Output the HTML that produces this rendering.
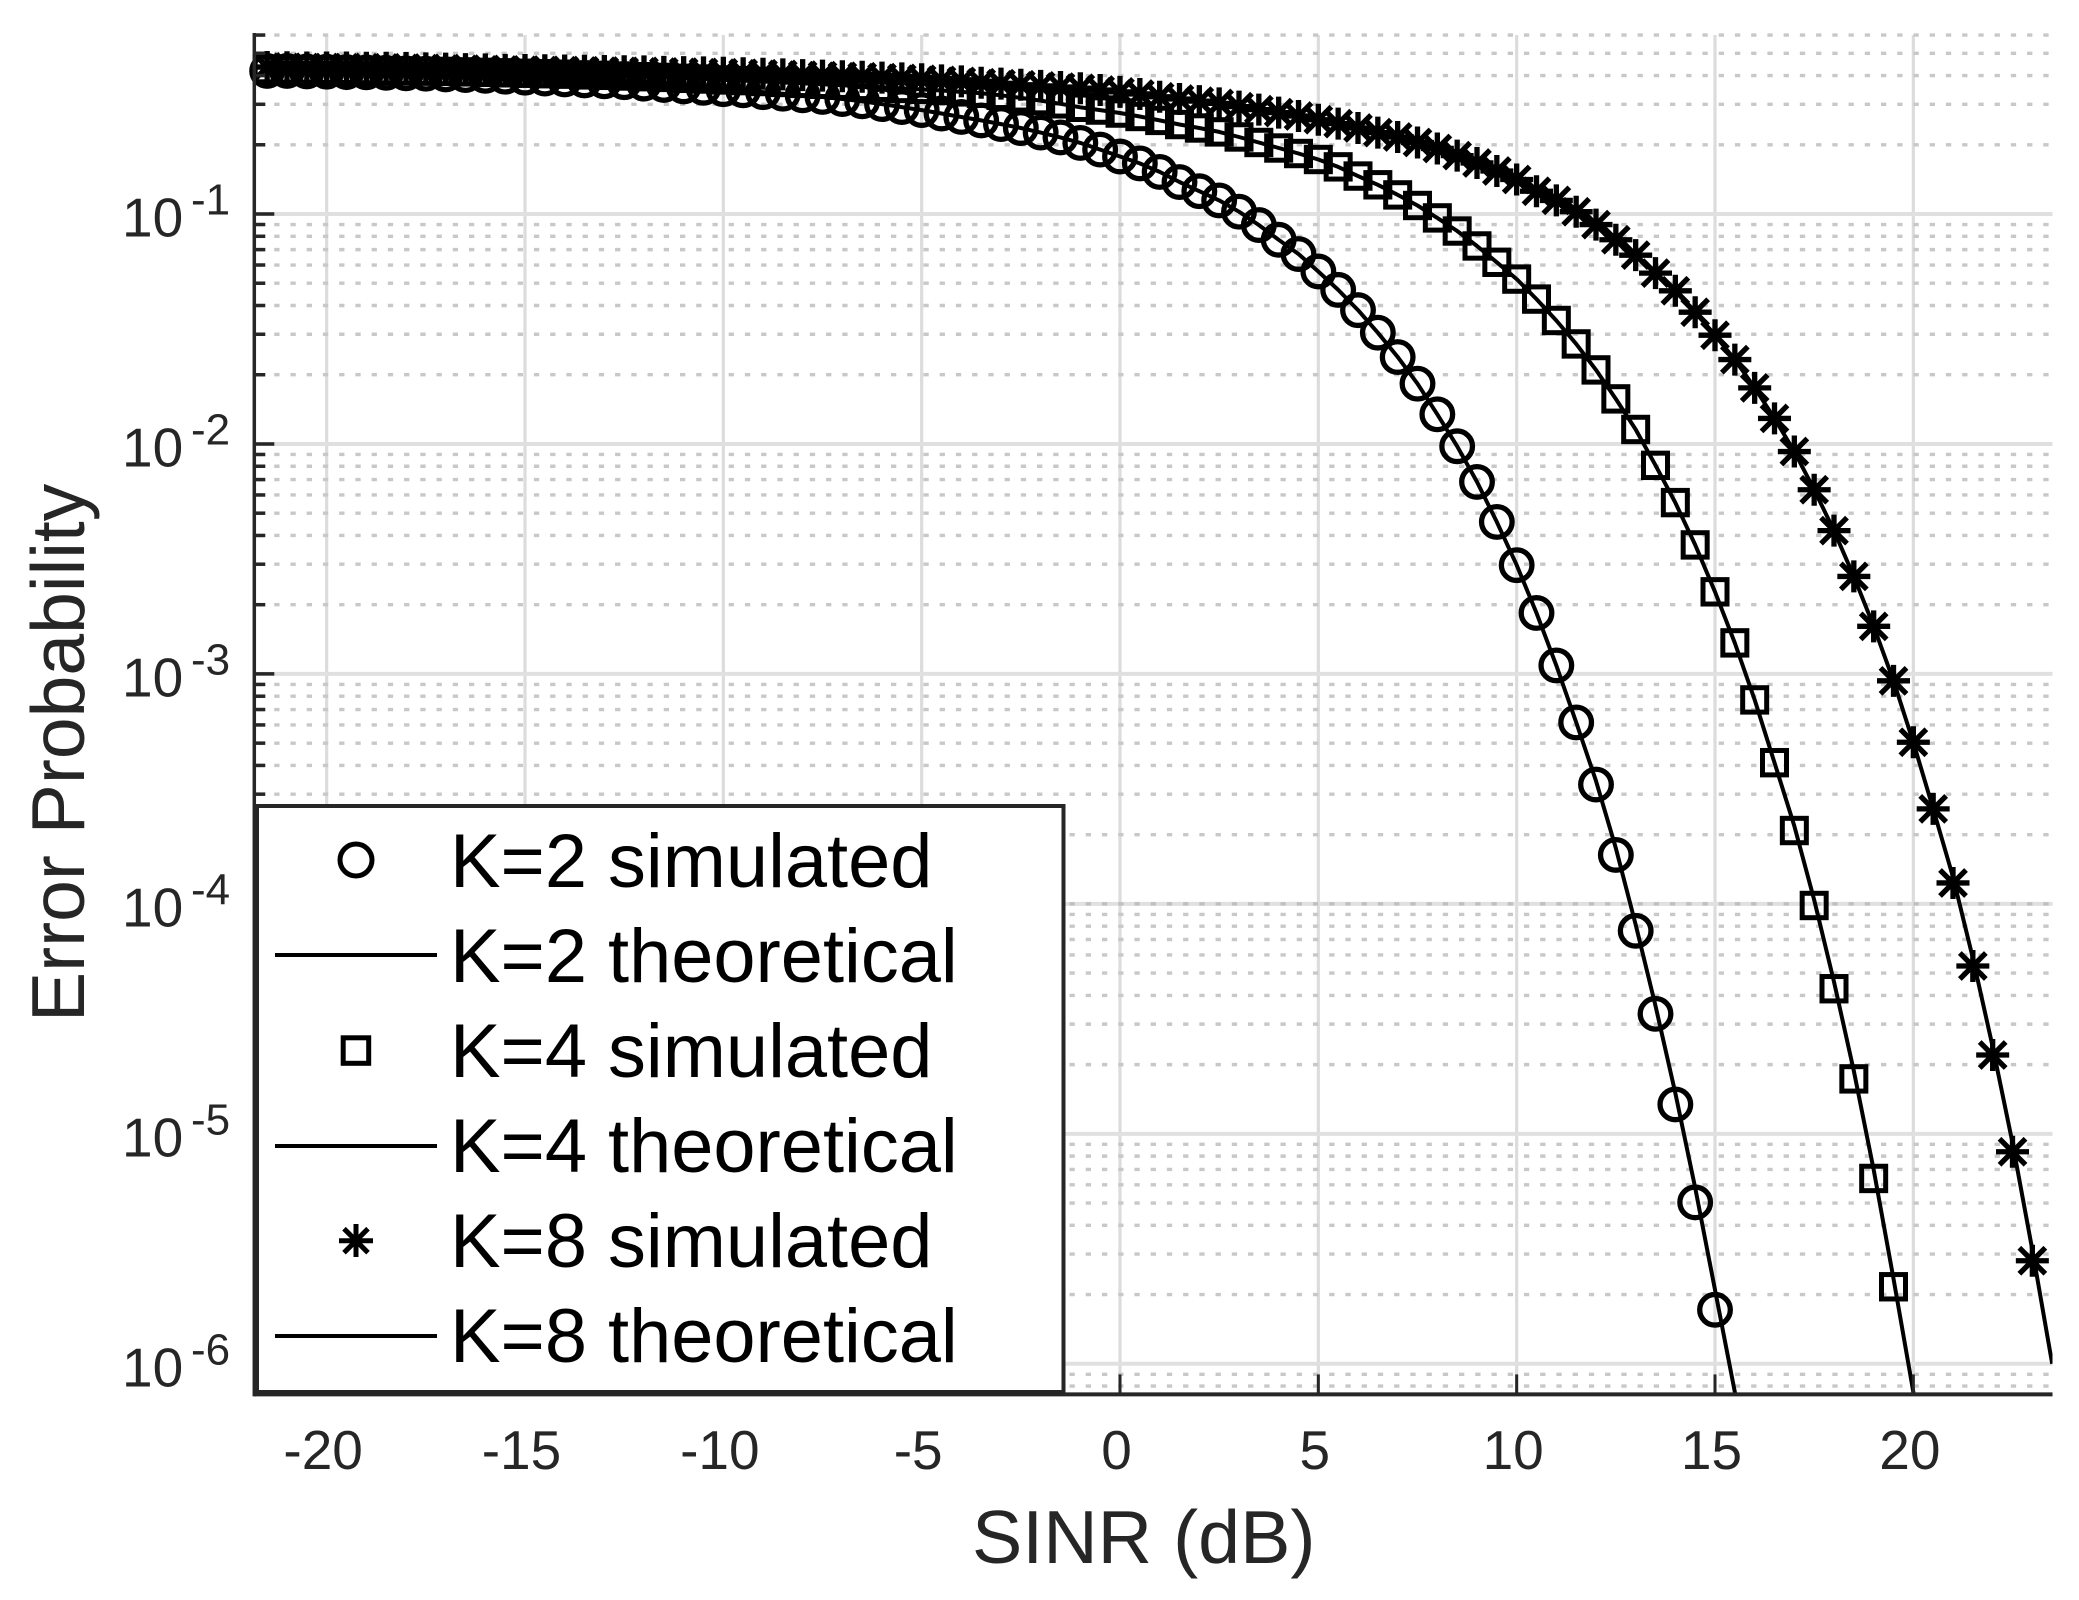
<!DOCTYPE html>
<html lang="en">
<head>
<meta charset="utf-8">
<title>Error Probability vs SINR</title>
<style>
html,body{margin:0;padding:0;background:#fff;}
#chart{display:block;width:2079px;height:1600px;}
text{font-family:"Liberation Sans",Arial,sans-serif;}
</style>
</head>
<body>
<svg id="chart" xmlns="http://www.w3.org/2000/svg" width="2079" height="1600" viewBox="0 0 2079 1600">
  <defs>
    <clipPath id="plot-clip"><rect x="254" y="35" width="1798.5" height="1359.4"/></clipPath>
  </defs>
  <rect x="0" y="0" width="2079" height="1600" fill="#ffffff"/>
  <g id="grid"></g>
  <g id="series"></g>
  <g id="axes"></g>
  <text x="972" y="1563" font-size="75.4" fill="#262626">SINR (dB)</text>
  <text transform="translate(84,1022) rotate(-90)" font-size="75.1" fill="#262626">Error Probability</text>
  <g id="legend">
    <rect x="257" y="806" width="806.5" height="586" fill="#ffffff" stroke="#262626" stroke-width="4"/>
    <circle cx="356" cy="860" r="16" fill="none" stroke="#000" stroke-width="5"/>
    <text x="450" y="887" font-size="75.8" fill="#000">K=2 simulated</text>
    <line x1="275" x2="437" y1="955" y2="955" stroke="#000" stroke-width="4"/>
    <text x="450" y="982" font-size="75.8" fill="#000">K=2 theoretical</text>
    <rect x="343.2" y="1037.8" width="25.5" height="25.5" fill="none" stroke="#000" stroke-width="5"/>
    <text x="450" y="1077" font-size="75.8" fill="#000">K=4 simulated</text>
    <line x1="275" x2="437" y1="1146" y2="1146" stroke="#000" stroke-width="4"/>
    <text x="450" y="1172" font-size="75.8" fill="#000">K=4 theoretical</text>
    <path d="M356 1224V1257M339 1240.7H373M344 1228.7L368 1252.7M344 1252.7L368 1228.7" fill="none" stroke="#000" stroke-width="5"/>
    <text x="450" y="1267" font-size="75.8" fill="#000">K=8 simulated</text>
    <line x1="275" x2="437" y1="1336" y2="1336" stroke="#000" stroke-width="4"/>
    <text x="450" y="1362" font-size="75.8" fill="#000">K=8 theoretical</text>
  </g>
</svg>
<script>
// SINR samples in dB
const sinrDb = [
-21.5,-21,-20.5,-20,-19.5,-19,-18.5,-18,-17.5,-17,
-16.5,-16,-15.5,-15,-14.5,-14,-13.5,-13,-12.5,-12,
-11.5,-11,-10.5,-10,-9.5,-9,-8.5,-8,-7.5,-7,
-6.5,-6,-5.5,-5,-4.5,-4,-3.5,-3,-2.5,-2,
-1.5,-1,-0.5,0,0.5,1,1.5,2,2.5,3,
3.5,4,4.5,5,5.5,6,6.5,7,7.5,8,
8.5,9,9.5,10,10.5,11,11.5,12,12.5,13,
13.5,14,14.5,15,15.5,16,16.5,17,17.5,18,
18.5,19,19.5,20,20.5,21,21.5,22,22.5,23,23.5];

// Series values: log10(error probability)
const k2Simulated = [
-.378,-.378,-.380,-.381,-.383,-.384,-.386,-.388,-.390,-.393,
-.396,-.399,-.403,-.407,-.411,-.415,-.419,-.423,-.427,-.433,
-.439,-.445,-.451,-.457,-.462,-.470,-.477,-.484,-.491,-.500,
-.510,-.522,-.535,-.548,-.563,-.578,-.593,-.609,-.626,-.646,
-.667,-.691,-.720,-.750,-.780,-.817,-.861,-.901,-.941,-.990,
-1.048,-1.112,-1.174,-1.250,-1.330,-1.418,-1.516,-1.622,-1.738,-1.871,
-2.010,-2.165,-2.339,-2.527,-2.735,-2.963,-3.211,-3.481,-3.787,-4.117,
-4.478,-4.872,-5.298,-5.765];
const k2Theoretical = [
-.378,-.378,-.380,-.381,-.383,-.384,-.386,-.388,-.390,-.393,
-.396,-.399,-.403,-.407,-.411,-.415,-.419,-.423,-.427,-.433,
-.439,-.445,-.451,-.457,-.462,-.470,-.477,-.484,-.491,-.500,
-.510,-.522,-.535,-.548,-.563,-.578,-.593,-.609,-.626,-.646,
-.667,-.691,-.720,-.750,-.780,-.817,-.861,-.901,-.941,-.990,
-1.048,-1.112,-1.174,-1.250,-1.330,-1.418,-1.516,-1.622,-1.738,-1.871,
-2.010,-2.165,-2.339,-2.527,-2.735,-2.963,-3.211,-3.465,-3.757,-4.091,
-4.443,-4.822,-5.235,-5.678,-6.122,-6.613];
const k4Simulated = [
-.372,-.373,-.373,-.374,-.375,-.376,-.377,-.378,-.379,-.380,
-.382,-.384,-.386,-.388,-.390,-.392,-.395,-.397,-.400,-.403,
-.406,-.410,-.413,-.417,-.420,-.424,-.428,-.432,-.436,-.440,
-.445,-.449,-.454,-.458,-.463,-.469,-.475,-.484,-.495,-.507,
-.521,-.536,-.548,-.561,-.576,-.593,-.611,-.626,-.643,-.665,
-.689,-.713,-.737,-.763,-.795,-.835,-.873,-.917,-.963,-1.017,
-1.074,-1.139,-1.210,-1.283,-1.370,-1.463,-1.565,-1.678,-1.804,-1.937,
-2.093,-2.255,-2.439,-2.643,-2.865,-3.113,-3.386,-3.681,-4.007,-4.369,
-4.761,-5.194,-5.665];
const k4Theoretical = [
-.372,-.373,-.373,-.374,-.375,-.376,-.377,-.378,-.379,-.380,
-.382,-.384,-.386,-.388,-.390,-.392,-.395,-.397,-.400,-.403,
-.406,-.410,-.413,-.417,-.420,-.424,-.428,-.432,-.436,-.440,
-.445,-.449,-.454,-.458,-.463,-.469,-.475,-.484,-.495,-.507,
-.521,-.536,-.548,-.561,-.576,-.593,-.611,-.626,-.643,-.665,
-.689,-.713,-.737,-.763,-.795,-.835,-.873,-.917,-.963,-1.017,
-1.074,-1.139,-1.210,-1.283,-1.370,-1.463,-1.565,-1.678,-1.804,-1.937,
-2.093,-2.255,-2.439,-2.643,-2.865,-3.113,-3.386,-3.661,-3.983,-4.339,
-4.726,-5.157,-5.630,-6.122,-6.635];
const k8Simulated = [
-.361,-.362,-.363,-.363,-.363,-.364,-.364,-.365,-.367,-.368,
-.370,-.371,-.373,-.374,-.375,-.376,-.377,-.378,-.379,-.380,
-.382,-.383,-.384,-.386,-.388,-.390,-.393,-.396,-.398,-.401,
-.403,-.407,-.410,-.414,-.419,-.423,-.429,-.433,-.438,-.443,
-.448,-.453,-.461,-.469,-.478,-.490,-.500,-.509,-.519,-.533,
-.546,-.559,-.574,-.590,-.607,-.626,-.646,-.665,-.689,-.715,
-.746,-.778,-.813,-.850,-.901,-.941,-.990,-1.046,-1.112,-1.179,
-1.257,-1.334,-1.427,-1.527,-1.633,-1.756,-1.889,-2.033,-2.199,-2.377,
-2.576,-2.793,-3.030,-3.297,-3.587,-3.909,-4.270,-4.657,-5.078,-5.552];
const k8Theoretical = [
-.361,-.362,-.363,-.363,-.363,-.364,-.364,-.365,-.367,-.368,
-.370,-.371,-.373,-.374,-.375,-.376,-.377,-.378,-.379,-.380,
-.382,-.383,-.384,-.386,-.388,-.390,-.393,-.396,-.398,-.401,
-.403,-.407,-.410,-.414,-.419,-.423,-.429,-.433,-.438,-.443,
-.448,-.453,-.461,-.469,-.478,-.490,-.500,-.509,-.519,-.533,
-.546,-.559,-.574,-.590,-.607,-.626,-.646,-.665,-.689,-.715,
-.746,-.778,-.813,-.850,-.901,-.941,-.990,-1.046,-1.112,-1.179,
-1.257,-1.334,-1.427,-1.527,-1.633,-1.756,-1.889,-2.033,-2.199,-2.377,
-2.576,-2.793,-3.030,-3.297,-3.587,-3.883,-4.235,-4.622,-5.039,-5.504,-6.000];

// Tick labels
const xTickValues = [-20,-15,-10,-5,0,5,10,15,20];
const yTickExponents = [-1,-2,-3,-4,-5,-6];
const yMinorMantissas = [2,3,4,5,6,7,8,9];

// Axis functions
const AX = {left:254.3, right:2052.5, top:35, bottom:1394.4};
function xScale(db){ return 1120 + db * 39.667; }
function yScale(logP){ return 214 + (-1 - logP) * 229.96; }

const NS = 'http://www.w3.org/2000/svg';
function mk(tag, parent, props){
  const el = document.createElementNS(NS, tag);
  for (const k in props) el.setAttribute(k, props[k]);
  parent.appendChild(el);
  return el;
}

const grid = document.getElementById('grid');
const axes = document.getElementById('axes');
const seriesLayer = document.getElementById('series');

// Vertical major grid, x ticks and labels
for (const v of xTickValues) {
  const x = xScale(v);
  const g = mk('line', grid, {x1:x, x2:x, y1:AX.top, y2:AX.bottom, stroke:'#dcdcdc', 'stroke-width':3.2});
  
  
  const t = mk('line', axes, {x1:x, x2:x, y1:AX.bottom - 20, y2:AX.bottom, stroke:'#262626', 'stroke-width':3});
  
  
  const lab = mk('text', axes, {x:x - 3.5, y:1469, 'text-anchor':'middle', 'font-size':55, fill:'#262626'});
  
  
  lab.textContent = String(v);
}

// Horizontal major grid, y ticks and labels
for (const e of yTickExponents) {
  const y = yScale(e);
  const g = mk('line', grid, {x1:AX.left, x2:AX.right, y1:y, y2:y, stroke:'#e0e0e0', 'stroke-width':4});
  
  
  const t = mk('line', axes, {x1:AX.left, x2:AX.left + 20, y1:y, y2:y, stroke:'#262626', 'stroke-width':3.5});
  
  
  const base = mk('text', axes, {x:122, y:y + 22.5, 'font-size':55, fill:'#262626'});
  
  
  base.textContent = '10';
  const sup = mk('text', axes, {x:191, y:y + 0.5, 'font-size':44, fill:'#262626'});
  
  
  sup.textContent = String(e);
}

// Minor horizontal grid and minor ticks
for (const e of [0].concat(yTickExponents)) {
  for (const m of yMinorMantissas) {
    const logP = e - 1 + Math.log10(m);
    const y = yScale(logP);
    if (y < AX.top - 0.5 || y > AX.bottom) continue;
    const g = mk('line', grid, {x1:258, x2:AX.right, y1:y, y2:y, stroke:'#c8c8c8', 'stroke-width':3.4, 'stroke-dasharray':'5.3 10.93'});
    
    
    const t = mk('line', axes, {x1:AX.left, x2:AX.left + 11, y1:y, y2:y, stroke:'#262626', 'stroke-width':3.5});
    
    
  }
}
const decadeDots = mk('line', grid, {x1:258, x2:AX.right, y1:yScale(-4), y2:yScale(-4), stroke:'#c0c0c0', 'stroke-width':3.4, 'stroke-dasharray':'5.3 10.93'});



// Axis lines
const yAxisLine = mk('line', axes, {x1:AX.left, x2:AX.left, y1:AX.top - 2, y2:AX.bottom + 2, stroke:'#262626', 'stroke-width':3.5});


const xAxisLine = mk('line', axes, {x1:AX.left, x2:AX.right, y1:AX.bottom, y2:AX.bottom, stroke:'#262626', 'stroke-width':4});



// Series marks
function drawLine(values, name){
  const pts = values.map((v, i) => xScale(sinrDb[i]).toFixed(1) + ',' + yScale(v).toFixed(1)).join(' ');
  const el = mk('polyline', seriesLayer, {points:pts, fill:'none', stroke:'#000', 'stroke-width':4, 'clip-path':'url(#plot-clip)', 'stroke-linejoin':'round'});
  
  
}
function drawCircles(values){
  values.forEach((v, i) => {
    const el = mk('circle', seriesLayer, {cx:xScale(sinrDb[i]), cy:yScale(v), r:15.3, fill:'none', stroke:'#000', 'stroke-width':5.3});
    
    
  });
}
function drawSquares(values){
  values.forEach((v, i) => {
    const x = xScale(sinrDb[i]), y = yScale(v);
    const el = mk('rect', seriesLayer, {x:x - 12, y:y - 12.2, width:24, height:24.4, fill:'none', stroke:'#000', 'stroke-width':5});
    
    
  });
}
function drawStars(values){
  values.forEach((v, i) => {
    const x = xScale(sinrDb[i]), y = yScale(v);
    const d = 'M' + x + ' ' + (y - 16) + 'V' + (y + 16) +
              'M' + (x - 16.5) + ' ' + y + 'H' + (x + 16.5) +
              'M' + (x - 13) + ' ' + (y - 13) + 'L' + (x + 13) + ' ' + (y + 13) +
              'M' + (x - 13) + ' ' + (y + 13) + 'L' + (x + 13) + ' ' + (y - 13);
    const el = mk('path', seriesLayer, {d:d, fill:'none', stroke:'#000', 'stroke-width':5.3});
    
    
  });
}

drawCircles(k2Simulated);
drawLine(k2Theoretical, 'k2-theoretical-line');
drawSquares(k4Simulated);
drawLine(k4Theoretical, 'k4-theoretical-line');
drawStars(k8Simulated);
drawLine(k8Theoretical, 'k8-theoretical-line');
</script>
</body>
</html>
